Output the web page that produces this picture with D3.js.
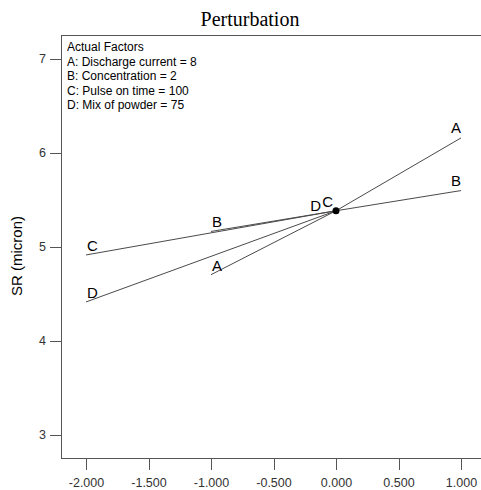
<!DOCTYPE html>
<html><head><meta charset="utf-8">
<script src="https://cdn.jsdelivr.net/npm/d3@7"></script>
<style>body{margin:0;background:#fff;overflow:hidden}svg{display:block}</style>
</head><body>
<script>
const title = "Perturbation";
const yLabel = "SR (micron)";
const legendLines = ["Actual Factors","A: Discharge current = 8","B: Concentration = 2","C: Pulse on time = 100","D: Mix of powder = 75"];
const xTicks = [-2, -1.5, -1, -0.5, 0, 0.5, 1];
const yTicks = [3, 4, 5, 6, 7];
// series: deviation from reference point (coded units) and SR response
const seriesNames = ["A","B","C","D"];
const devA = [-1, 0, 1];   const srA = [4.70, 5.38, 6.155];
const devB = [-1, 0, 1];   const srB = [5.16, 5.38, 5.595];
const devC = [-2, 0];      const srC = [4.91, 5.38];
const devD = [-2, 0];      const srD = [4.41, 5.38];
const refPoint = [0, 5.38];

const W = 481, H = 490;
const svg = d3.select("body").append("svg").attr("width", W).attr("height", H);
const x = d3.scaleLinear().domain([-2.2, 1.2]).range([61, 486]);
const y = d3.scaleLinear().domain([2.75, 7.25]).range([458, 35]);

const ink = "#555";
// frame
svg.append("path").attr("d", `M${x(1.2)},${y(7.25)}H${x(-2.2)}V${y(2.75)}H${x(1.2)}`)
  .attr("fill","none").attr("stroke", ink).attr("stroke-width",1).attr("shape-rendering","crispEdges");

// axes
const ya = svg.append("g").attr("transform", `translate(${x(-2.2)},0)`)
  .call(d3.axisLeft(y).tickValues(yTicks).tickFormat(d3.format("d")).tickSize(11).tickPadding(4));
ya.select(".domain").remove();
ya.selectAll("line").attr("stroke", ink).attr("shape-rendering","crispEdges");
ya.selectAll("text").attr("font-family","Liberation Sans, Arial, sans-serif").attr("font-size",12.5).attr("fill","#333");

const xa = svg.append("g").attr("transform", `translate(0,${y(2.75)})`)
  .call(d3.axisBottom(x).tickValues(xTicks).tickFormat(d3.format(".3f")).tickSize(12));
xa.select(".domain").remove();
xa.selectAll("line").attr("stroke", ink).attr("shape-rendering","crispEdges");
xa.selectAll("text").attr("font-family","Liberation Sans, Arial, sans-serif").attr("font-size",12.5)
  .attr("fill","#333").attr("y", 29).attr("dy", 0).text(d => d3.format(".3f")(d).replace("−","-"));

// title
svg.append("text").attr("x", 250).attr("y", 26).attr("text-anchor","middle")
  .attr("font-family","Liberation Serif, Times New Roman, serif").attr("font-size",20).attr("fill","#000").text(title);

// y label
svg.append("text").attr("transform","translate(22,256) rotate(-90)").attr("text-anchor","middle")
  .attr("font-family","Liberation Sans, Arial, sans-serif").attr("font-size",15).attr("fill","#000").text(yLabel);

// legend
svg.append("g").selectAll("text").data(legendLines).join("text")
  .attr("x", 67).attr("y", (d,i) => 51 + i*14.5)
  .attr("font-family","Liberation Sans, Arial, sans-serif").attr("font-size",12).attr("fill","#000").text(d => d);

// lines
const series = [
  {name:"A", dev:devA, sr:srA},
  {name:"B", dev:devB, sr:srB},
  {name:"C", dev:devC, sr:srC},
  {name:"D", dev:devD, sr:srD}
];
const line = d3.line().x(d => x(d[0])).y(d => y(d[1]));
svg.append("g").selectAll("path").data(series).join("path")
  .attr("d", s => line(s.dev.map((v,i) => [v, s.sr[i]])))
  .attr("fill","none").attr("stroke","#4a4a4a").attr("stroke-width",1);

// end labels
const lab = svg.append("g").attr("font-family","Liberation Sans, Arial, sans-serif").attr("font-size",15).attr("fill","#000");
series.forEach(s => {
  const n = s.dev.length;
  lab.append("text").attr("x", x(s.dev[0]) + 1).attr("y", y(s.sr[0]) - 4).text(s.name);
  if (s.dev[n-1] > 0) {
    lab.append("text").attr("x", x(s.dev[n-1])).attr("y", y(s.sr[n-1]) - 5).attr("text-anchor","end").text(s.name);
  }
});
// labels for series ending at reference point
lab.append("text").attr("x", x(0) - 15).attr("y", y(refPoint[1]) - 0).attr("text-anchor","end").text("D");
lab.append("text").attr("x", x(0) - 3).attr("y", y(refPoint[1]) - 4).attr("text-anchor","end").text("C");

// reference point
svg.append("circle").attr("cx", x(refPoint[0])).attr("cy", y(refPoint[1])).attr("r", 3.5).attr("fill","#000");
</script>
</body></html>
